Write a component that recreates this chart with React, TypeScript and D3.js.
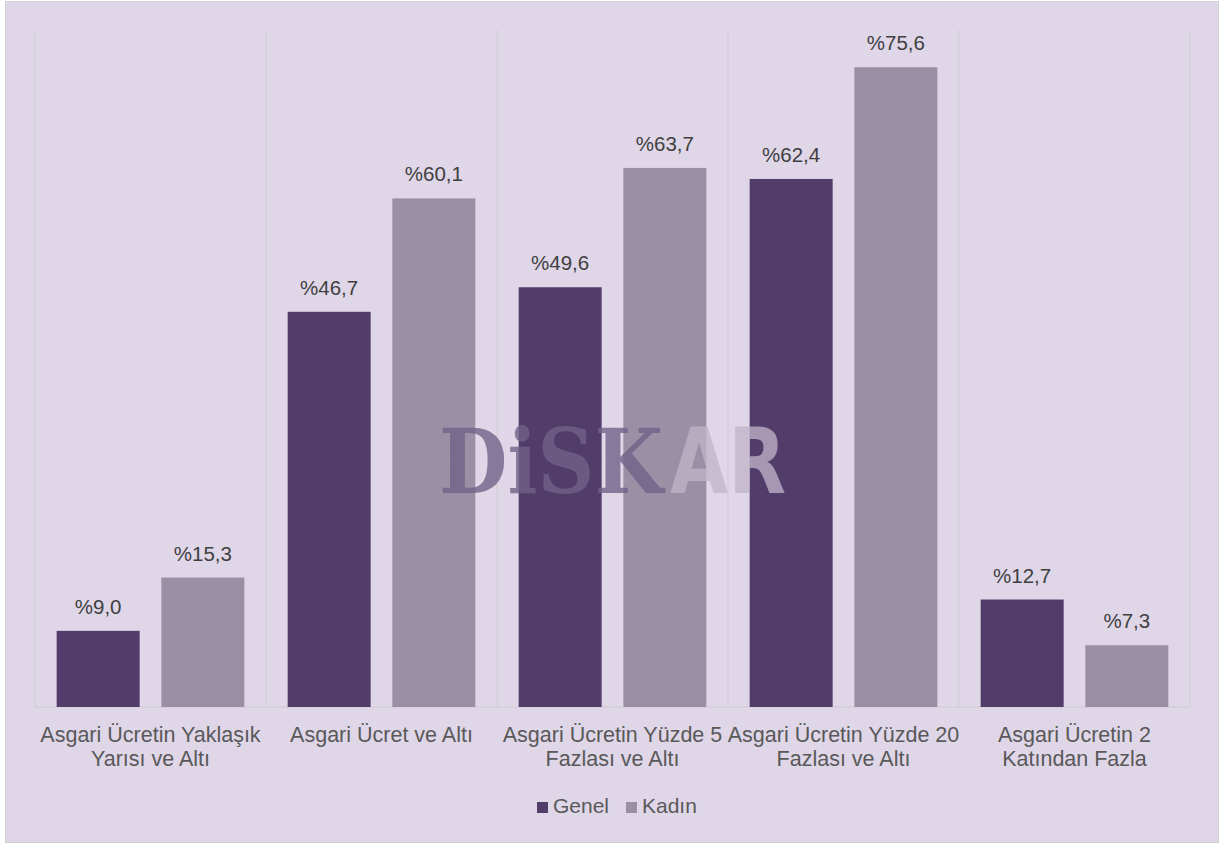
import React, { useEffect, useRef, useState } from "react";
import * as d3 from "d3";

const categories = [
  "Asgari Ücretin Yaklaşık Yarısı ve Altı",
  "Asgari Ücret ve Altı",
  "Asgari Ücretin Yüzde 5 Fazlası ve Altı",
  "Asgari Ücretin Yüzde 20 Fazlası ve Altı",
  "Asgari Ücretin 2 Katından Fazla",
];
const categoryLines = [
  ["Asgari Ücretin Yaklaşık", "Yarısı ve Altı"],
  ["Asgari Ücret ve Altı"],
  ["Asgari Ücretin Yüzde 5", "Fazlası ve Altı"],
  ["Asgari Ücretin Yüzde 20", "Fazlası ve Altı"],
  ["Asgari Ücretin 2", "Katından Fazla"],
];
const seriesNames = ["Genel", "Kadın"];
const genel = [9.0, 46.7, 49.6, 62.4, 12.7];
const kadin = [15.3, 60.1, 63.7, 75.6, 7.3];
const seriesValues = [genel, kadin];
const colors = ["#523d6a", "#9b8fa6"];

const W = 1220;
const H = 844;
const plot = { left: 35, right: 1190, top: 30, bottom: 707 };
const FONT = "'Liberation Sans', Arial, sans-serif";

function FitText(props: {
  x: number;
  y: number;
  width: number;
  text: string;
  family: string;
  fill: string;
  opacity: number;
}) {
  const ref = useRef<SVGTextElement>(null);
  const [sx, setSx] = useState(1);
  useEffect(() => {
    if (ref.current) {
      const w = ref.current.getComputedTextLength();
      if (w > 0) setSx(props.width / w);
    }
  }, [props.width, props.text]);
  return (
    <g transform={`translate(${props.x},${props.y}) scale(${sx},1)`}>
      <text
        ref={ref}
        x={0}
        y={0}
        fontFamily={props.family}
        fontWeight="bold"
        fontSize={90}
        fill={props.fill}
        fillOpacity={props.opacity}
      >
        {props.text}
      </text>
    </g>
  );
}

export default function App() {
  const x0 = d3.scaleBand<string>().domain(categories).range([plot.left, plot.right]).padding(0);
  const x1 = d3
    .scaleBand<string>()
    .domain(seriesNames)
    .range([0, x0.bandwidth()])
    .paddingInner(0.207)
    .paddingOuter(0.207);
  const y = d3.scaleLinear().domain([0, 80]).range([plot.bottom, plot.top]);
  const fmt = (v: number) => "%" + v.toFixed(1).replace(".", ",");

  const separators = [...categories.map((c) => x0(c)!), plot.right];

  return (
    <svg
      width={W}
      height={H}
      style={{ position: "absolute", left: 0, top: 0, fontFamily: FONT }}
    >
      <rect x={0} y={0} width={W} height={H} fill="#ffffff" />
      <rect x={5.5} y={1.5} width={W - 7} height={H - 3} fill="#dfd6e8" stroke="#d3d0d6" strokeWidth={1} />
      {separators.map((sx, i) => (
        <line key={i} x1={sx} x2={sx} y1={plot.top} y2={plot.bottom} stroke="#d2ced6" strokeWidth={1.3} />
      ))}
      <line x1={plot.left} x2={plot.right} y1={plot.bottom} y2={plot.bottom} stroke="#d2ced6" strokeWidth={1.3} />
      {categories.map((c, ci) => (
        <g key={c} transform={`translate(${x0(c)},0)`}>
          {seriesNames.map((s, si) => {
            const v = seriesValues[si][ci];
            const bx = x1(s)!;
            const bw = x1.bandwidth();
            return (
              <g key={s}>
                <rect x={bx} y={y(v)} width={bw} height={plot.bottom - y(v)} fill={colors[si]} />
                <text
                  x={bx + bw / 2}
                  y={y(v) - 17}
                  textAnchor="middle"
                  fontSize={20.5}
                  fill="#404040"
                >
                  {fmt(v)}
                </text>
              </g>
            );
          })}
          {categoryLines[ci].map((ln, li) => (
            <text
              key={li}
              x={x0.bandwidth() / 2}
              y={742 + li * 23.5}
              textAnchor="middle"
              fontSize={21.5}
              fill="#595959"
            >
              {ln}
            </text>
          ))}
        </g>
      ))}
      {/* watermark */}
      <FitText x={439} y={493} width={224} text="DiSK" family="'DejaVu Serif', serif" fill="#716187" opacity={0.8} />
      <FitText x={670} y={493} width={116} text="AR" family="'DejaVu Sans', sans-serif" fill="#bfb4c9" opacity={0.77} />
      {/* legend */}
      {seriesNames.map((s, i) => {
        const lx = [537, 626][i];
        return (
          <g key={s}>
            <rect x={lx} y={802} width={11} height={11} fill={colors[i]} />
            <text x={lx + 16} y={813} fontSize={21} fill="#595959">
              {s}
            </text>
          </g>
        );
      })}
    </svg>
  );
}
